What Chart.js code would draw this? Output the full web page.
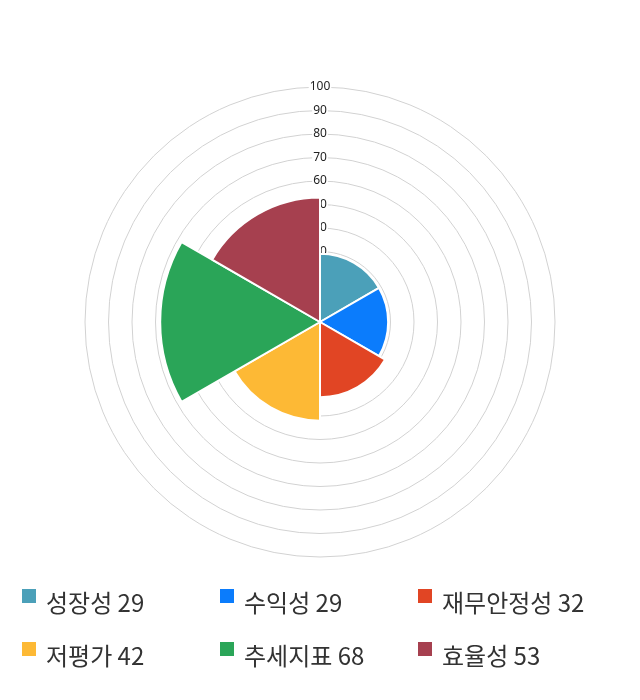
<!DOCTYPE html>
<html><head><meta charset="utf-8">
<script src="https://cdn.jsdelivr.net/npm/chart.js@4"></script>
<style>
html,body{margin:0;padding:0;background:#fff;width:640px;height:700px;overflow:hidden;}
#wrap{position:absolute;left:0;top:0;width:640px;height:644px;}
#legend{position:absolute;left:22px;top:585px;width:600px;display:grid;grid-template-columns:198px 198px 198px;row-gap:21px;font-family:"Noto Sans CJK KR","Noto Sans",sans-serif;font-size:24px;color:#333;}
.item{display:flex;align-items:center;height:32px;white-space:nowrap;}
.box{width:14px;height:14px;margin-right:10px;margin-top:-10px;flex:none;}
</style></head>
<body>
<div id="wrap"><canvas id="c"></canvas></div>
<div id="legend"></div>
<script>
const categories = ["성장성","수익성","재무안정성","저평가","추세지표","효율성"];
const values = [29,29,32,42,68,53];
const colors = ["#4ba0b9","#0b7cfc","#e14524","#fdb935","#2aa558","#a6404f"];
const tickValues = [0,10,20,30,40,50,60,70,80,90,100];

new Chart(document.getElementById('c'),{
  type:'polarArea',
  data:{labels:categories,datasets:[{data:values,backgroundColor:colors,borderColor:'#fff',borderWidth:2}]},
  options:{
    responsive:true,maintainAspectRatio:false,animation:false,
    layout:{padding:{top:80,bottom:80,left:0,right:0}},
    plugins:{legend:{display:false},tooltip:{enabled:false}},
    scales:{r:{
      min:0,max:100,
      afterBuildTicks:(s)=>{s.ticks=tickValues.map(v=>({value:v}));},
      ticks:{font:{size:12,family:"'Noto Sans','DejaVu Sans',sans-serif"},color:'#222',backdropColor:'#fff',backdropPadding:1,z:0},
      grid:{color:'#d2d2d2',lineWidth:1},
      angleLines:{display:false},
      pointLabels:{display:false}
    }}
  }
});
const lg=document.getElementById('legend');
categories.forEach((c,i)=>{
  const d=document.createElement('div');d.className='item';
  d.innerHTML='<span class="box" style="background:'+colors[i]+'"></span><span>'+c+' '+values[i]+'</span>';
  lg.appendChild(d);
});
</script>
</body></html>
